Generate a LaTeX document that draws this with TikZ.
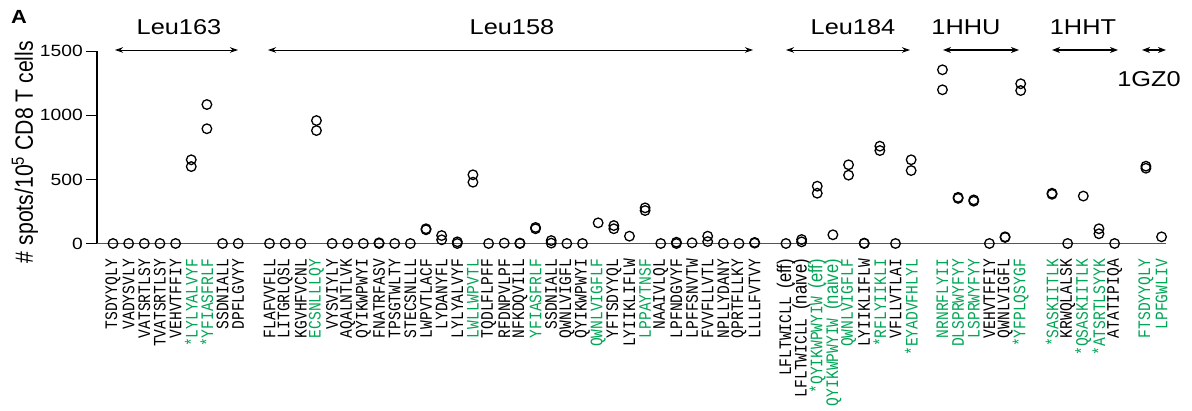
\documentclass[tikz,border=0pt]{standalone}
\usepackage{fontspec}
\setmainfont{Liberation Sans}
\setsansfont{Liberation Sans}
\setmonofont{Liberation Mono}
\usetikzlibrary{arrows.meta}
\definecolor{pepgreen}{RGB}{0,166,85}
\definecolor{axisgray}{RGB}{85,85,85}
\newcommand{\sfpart}[1]{{\sffamily\fontsize{16.5}{18}\selectfont #1}}
\tikzset{
  marker/.style={draw=black, line width=1.3pt},
  pep/.style={rotate=90, yscale=1.2, anchor=east, inner sep=0pt, font=\fontsize{14.6}{16}\ttfamily},
  grp/.style={anchor=base, inner sep=0pt, xscale=1.18, font=\fontsize{21.5}{24}\sffamily},
  ticklab/.style={anchor=east, inner sep=0pt, xscale=1.18, font=\fontsize{16.3}{18}\sffamily},
  bracket/.style={{Stealth[length=8pt,width=5.5pt,inset=2.5pt]}-{Stealth[length=8pt,width=5.5pt,inset=2.5pt]}, line width=0.9pt},
  bracketb/.style={{Stealth[length=8pt,width=6pt,inset=2.5pt]}-{Stealth[length=8pt,width=6pt,inset=2.5pt]}, line width=1.4pt},
}
\begin{document}
\begin{tikzpicture}[x=1pt,y=-1pt]
\useasboundingbox (0,0) rectangle (1192,411);
% panel letter
\node[anchor=base west, inner sep=0pt, xscale=1.15, font=\fontsize{19}{21}\sffamily\bfseries] (A) at (11,23.5) {A};
% axes
\coordinate (o) at (97,243.5);
\coordinate (ytop) at (97,51.2);
\coordinate (xend) at (1166,243.5);
\draw[line width=1.1pt, black] (ytop) -- (o);
\draw[line width=1.3pt, axisgray] (o) -- (xend);
\foreach \v in {0,500,1000,1500}{
  \coordinate (t\v) at (86,243.5-0.1282*\v);
  \coordinate (tt\v) at (97,243.5-0.1282*\v);
  \draw[line width=1.1pt] (t\v) -- (tt\v);
  \node[ticklab] (tl\v) at (83,243.5-0.1282*\v) {\v};
}
\node[rotate=90, yscale=1.18, inner sep=0pt, font=\fontsize{21.2}{24}\sffamily] (ylab) at (25,152) {\# spots/10\textsuperscript{5} CD8 T cells};
% group brackets
\coordinate (b1a) at (115,50); \coordinate (b1b) at (238,50);
\coordinate (b2a) at (268,50); \coordinate (b2b) at (753,50);
\coordinate (b3a) at (786,50); \coordinate (b3b) at (910,50);
\coordinate (b4a) at (943,50); \coordinate (b4b) at (1019,50);
\coordinate (b5a) at (1052,50); \coordinate (b5b) at (1118,50);
\coordinate (b6a) at (1142,50); \coordinate (b6b) at (1166,50);
\draw[bracket] (b1a) -- (b1b);
\draw[bracket] (b2a) -- (b2b);
\draw[bracket] (b3a) -- (b3b);
\draw[bracketb] (b4a) -- (b4b);
\draw[bracketb] (b5a) -- (b5b);
\draw[bracketb] (b6a) -- (b6b);
\node[grp] (g1) at (179,35) {Leu163};
\node[grp] (g2) at (512,35) {Leu158};
\node[grp] (g3) at (853,35) {Leu184};
\node[grp] (g4) at (966,35) {1HHU};
\node[grp] (g5) at (1083,35) {1HHT};
\node[grp] (g6) at (1149,87) {1GZ0};
% data points
\foreach \i/\v in {0/0,1/0,2/0,3/0,4/0,5/653,5/600,6/1084,6/895,7/0,8/0,
  10/0,11/0,12/0,13/959,13/881,14/0,15/0,16/0,17/5,17/0,18/0,19/0,20/115,20/107,
  21/62,21/29,22/13,22/0,23/536,23/478,24/0,25/3,26/3,26/0,27/125,27/115,28/23,28/3,
  29/0,30/0,31/161,32/140,32/115,33/57,34/278,34/257,35/0,36/10,36/0,37/5,38/57,38/15,
  39/0,40/0,41/8,41/3,
  43/0,44/31,44/13,45/447,45/392,46/68,47/614,47/533,48/0,48/3,49/759,49/725,50/0,51/653,51/569,
  53/1355,53/1199,54/360,54/352,55/340,55/330,56/0,57/47,57/52,58/1246,58/1193,
  60/392,60/384,61/0,62/370,63/115,63/76,64/0,66/603,66/587,67/52}{
  \draw[marker] (113+15.65*\i,243.5-0.1282*\v) circle[radius=4.8];
}
% peptide labels
\foreach \i/\c/\t in {
  0/black/TSDYYQLY, 1/black/VADYSVLY, 2/black/VATSRTLSY, 3/black/TVATSRTLSY,
  4/black/VEHVTFFIY, 5/pepgreen/*LYLYALVYF, 6/pepgreen/*YFIASFRLF, 7/black/SSDNIALL,
  8/black/DPFLGVYY,
  10/black/FLAFVVFLL, 11/black/LITGRLQSL, 12/black/KGVHFVCNL, 13/pepgreen/ECSNLLLQY,
  14/black/VYSVIYLY, 15/black/AQALNTLVK, 16/black/QYIKWPWYI, 17/black/FNATRFASV,
  18/black/TPSGTWLTY, 19/black/STECSNLLL, 20/black/LWPVTLACF, 21/black/LYDANYFL,
  22/black/LYLYALVYF, 23/pepgreen/LWLLWPVTL, 24/black/TQDLFLPFF, 25/black/RFDNPVLPF,
  26/black/NFKDQVILL, 27/pepgreen/YFIASFRLF, 28/black/SSDNIALL, 29/black/QWNLVIGFL,
  30/black/QYIKWPWYI, 31/pepgreen/QWNLVIGFLF, 32/black/YFTSDYYQL, 33/black/LYIIKLIFLW,
  34/pepgreen/LPPAYTNSF, 35/black/NAAIVLQL, 36/black/LPFNDGVYF, 37/black/LPFFSNVTW,
  38/black/FVVFLLVTL, 39/black/NPLLYDANY, 40/black/QPRTFLLKY, 41/black/LLLLFVTVY,
  43/black/{LFLTWICLL \sfpart{(eff)}}, 44/black/{LFLTWICLL \sfpart{(naive)}},
  45/pepgreen/{*QYIKWPWYIW \sfpart{(eff)}}, 46/pepgreen/{QYIKWPWYIW \sfpart{(naive)}},
  47/pepgreen/QWNLVIGFLF, 48/black/LYIIKLIFLW, 49/pepgreen/*RFLYIIKLI,
  50/black/VFLLVTLAI, 51/pepgreen/*EYADVFHLYL,
  53/pepgreen/NRNRFLYII, 54/pepgreen/DLSPRWYFYY, 55/pepgreen/LSPRWYFYY,
  56/black/VEHVTFFIY, 57/black/QWNLVIGFL, 58/pepgreen/*YFPLQSYGF,
  60/pepgreen/*SASKIITLK, 61/black/KRWQLALSK, 62/pepgreen/*QSASKIITLK,
  63/pepgreen/*ATSRTLSYYK, 64/black/ATATIPIQA,
  66/pepgreen/FTSDYYQLY, 67/pepgreen/LPFGWLIV}{
  \node[pep, text=\c] (lab\i) at (113+15.65*\i,259) {\t};
}
\end{tikzpicture}
\end{document}
